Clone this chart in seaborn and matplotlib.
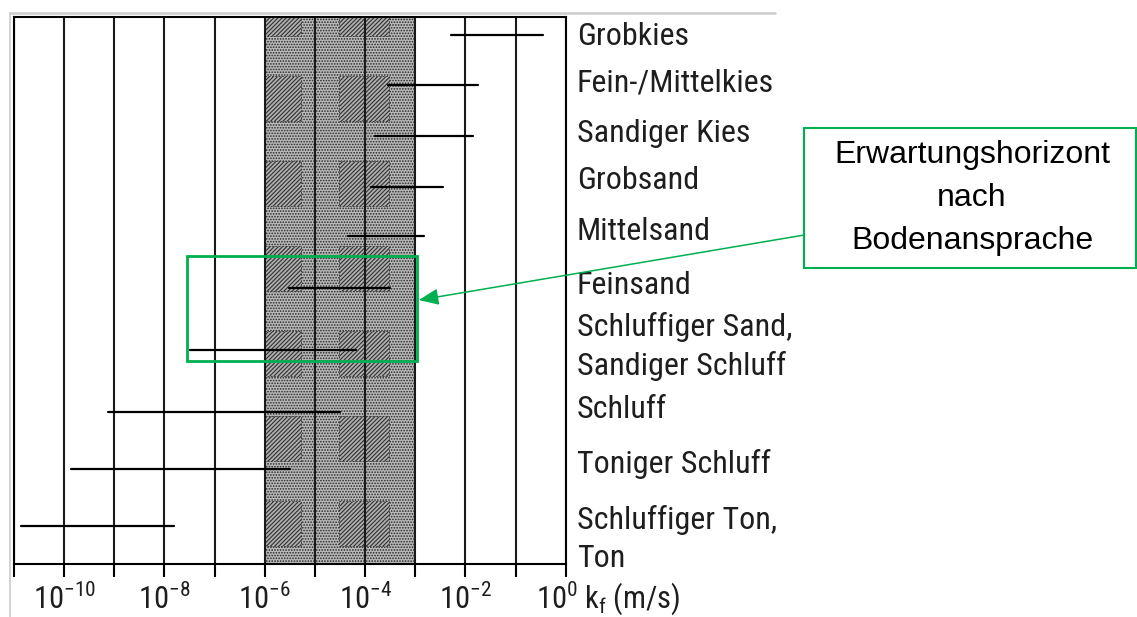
import numpy as np
import pandas as pd
import matplotlib
matplotlib.use("Agg")
import matplotlib.pyplot as plt
from matplotlib import font_manager
from matplotlib.patches import Rectangle
from matplotlib.lines import Line2D
from matplotlib.transforms import blended_transform_factory, ScaledTranslation
import seaborn as sns

# soil classes and their k_f ranges (m/s)
soils = ["Grobkies", "Fein-/Mittelkies", "Sandiger Kies", "Grobsand", "Mittelsand",
         "Feinsand", "Schluffiger Sand,\nSandiger Schluff", "Schluff",
         "Toniger Schluff", "Schluffiger Ton,\nTon"]
k_min = [5.2e-3, 2.9e-4, 1.6e-4, 1.3e-4, 4.5e-5, 3.1e-6, 3.3e-8, 7.6e-10, 1.4e-10, 1.35e-11]
k_max = [3.5e-1, 1.8e-2, 1.4e-2, 3.5e-3, 1.5e-3, 3.2e-4, 6.5e-5, 3.2e-5, 3.2e-6, 1.55e-8]

# expected range after soil description
band_lo, band_hi = 1e-6, 1e-3
focus_lo, focus_hi = 2.8e-8, 1.1e-3

decades = np.arange(-11, 1)
tick_text = ["" if e % 2 else r"$10^{%d}$" % e for e in decades]

# layout (row positions, top = 0)
row_pos = [0.368, 1.373, 2.392, 3.417, 4.402, 5.447, 6.699, 7.952, 9.097, 10.237]
label_pos = [0.40, 1.33, 2.35, 3.30, 4.31, 5.41, 6.63, 7.90, 9.00, 10.50]

# pick a narrow font if one is installed
installed = {f.name for f in font_manager.fontManager.ttflist}
narrow = None
for cand in ["Liberation Sans Narrow", "Roboto Condensed", "Open Sans Condensed",
             "DejaVu Sans Condensed"]:
    if cand in installed:
        narrow = cand
        break
if narrow:
    main_font, lab_size, tick_size = narrow, 23, 22
else:
    main_font, lab_size, tick_size = "Roboto", 20, 19

sns.set_theme(style="white")
plt.rcParams["font.family"] = [main_font, "DejaVu Sans"]
plt.rcParams["mathtext.fontset"] = "custom"
plt.rcParams["mathtext.rm"] = main_font
plt.rcParams["mathtext.it"] = main_font
plt.rcParams["hatch.linewidth"] = 0.8

green = "#00b050"
ink = "#1e1e1e"

fig = plt.figure(figsize=(11.37, 6.17), dpi=100)
ax = fig.add_axes([14 / 1137, 1 - 564 / 617, (565.7 - 14) / 1137, (564 - 16.7) / 617])

df = pd.DataFrame({
    "k": k_min + k_max,
    "row": row_pos + row_pos,
    "soil": soils + soils,
})
sns.lineplot(data=df, x="k", y="row", units="soil", estimator=None, sort=False,
             color="black", lw=1.6, ax=ax, legend=False, zorder=4)

ax.set_xscale("log")
ax.set_xlim(10 ** -10.96, 1)
ax.set_ylim(11, 0)

# textured band
ax.axvspan(band_lo, band_hi, facecolor="#b9b9b9", edgecolor="#262626", hatch="......",
           lw=0, zorder=0.4)
for c0, c1 in [(-6.0, -5.27), (-4.52, -3.53)]:
    for r0 in np.arange(-0.517, 11, 1.709):
        ax.add_patch(Rectangle((10 ** c0, r0), 10 ** c1 - 10 ** c0, 0.905,
                               facecolor="#b0b0b0", edgecolor="#303030", hatch="////////",
                               lw=0.6, ls=(0, (2, 2)), zorder=0.5, clip_on=True))

ax.set_xticks(10.0 ** decades)
ax.set_xticklabels(tick_text)
ax.xaxis.set_minor_locator(matplotlib.ticker.NullLocator())
ax.set_yticks([])
ax.set_xlabel("")
ax.set_ylabel("")
ax.tick_params(axis="x", direction="out", length=9, width=1.5, color="black",
               labelsize=tick_size, labelcolor=ink, pad=5, bottom=True)
# last label sits a little left of its tick, making room for the unit
last = ax.get_xticklabels()[-1]
last.set_transform(last.get_transform() + ScaledTranslation(-9 / 100, 0, fig.dpi_scale_trans))
ax.grid(True, axis="x", which="major", color="#1a1a1a", lw=1.5)
ax.set_axisbelow("line")
for s in ax.spines.values():
    s.set_visible(True)
    s.set_color("black")
    s.set_linewidth(1.5)

# soil labels right of plot
tr = blended_transform_factory(ax.transAxes, ax.transData)
for name, y in zip(soils, label_pos):
    ax.text(1.02, y, name, transform=tr, ha="left", va="center", fontsize=lab_size,
            linespacing=1.4, color=ink)

fig.text(584 / 1137, 1 - 608 / 617, r"k$_\mathrm{f}$ (m/s)", fontsize=tick_size,
         ha="left", va="baseline", color=ink)

# green focus box
ax.add_patch(Rectangle((focus_lo, 4.804), focus_hi - focus_lo, 2.111, fill=False,
                       edgecolor=green, lw=2, zorder=6))

# callout box
fig.add_artist(Rectangle((804.3 / 1137, 1 - 268.3 / 617), (1135.5 - 804.3) / 1137,
                         140 / 617, transform=fig.transFigure, fill=False,
                         edgecolor=green, lw=1.5))
fig.text(972 / 1137, 1 - 198 / 617, "Erwartungshorizont\nnach\nBodenansprache",
         ha="center", va="center", fontsize=23, linespacing=1.55,
         family=["Liberation Sans", "DejaVu Sans"], color="black")
ax.annotate("", xy=(10 ** -2.928, 5.695), xycoords="data",
            xytext=(804.3 / 1137, 1 - 235 / 617), textcoords="figure fraction",
            arrowprops=dict(arrowstyle="-|>,head_length=0.6,head_width=0.25",
                            color=green, lw=1.1, mutation_scale=20,
                            shrinkA=0, shrinkB=0), zorder=7, annotation_clip=False)

# light frame of the original scan
fig.add_artist(Line2D([10 / 1137, 775 / 1137], [1 - 13.3 / 617] * 2, color="#cccccc",
                      lw=1.8, transform=fig.transFigure))
fig.add_artist(Line2D([10 / 1137, 10 / 1137], [1 - 13.3 / 617, 0], color="#cccccc",
                      lw=1.2, transform=fig.transFigure))

fig.savefig("out.png", dpi=100)
